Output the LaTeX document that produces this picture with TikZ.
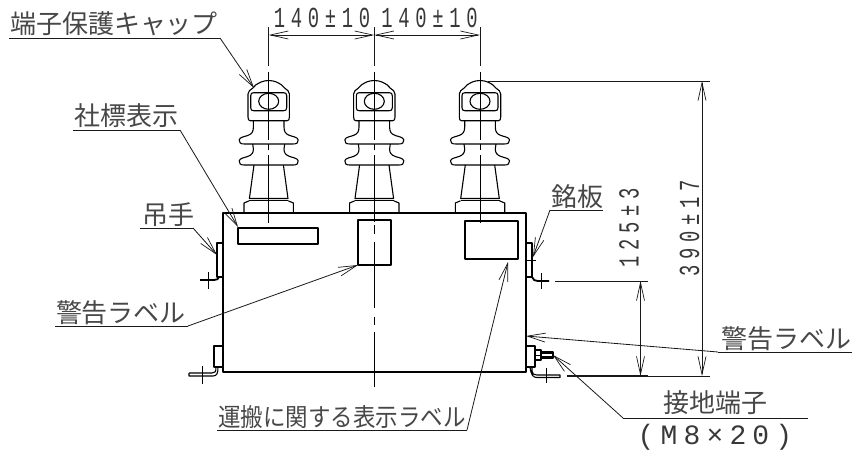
\documentclass[tikz,border=0pt]{standalone}
\usepackage{fontspec}
\usetikzlibrary{arrows.meta}
\newfontfamily\jpfont{Noto Sans CJK JP}
\newfontfamily\jpnarrow[FakeStretch=0.9]{Noto Sans CJK JP}
\newfontfamily\dimfont[FakeStretch=0.65,LetterSpace=19.5]{Liberation Mono}
\newfontfamily\partfont[LetterSpace=22]{Liberation Mono}
\tikzset{
  jplabel/.style={inner sep=0pt,font=\fontsize{26}{26}\jpfont,text=black!72},
  dimlabel/.style={inner sep=0pt,font=\fontsize{29}{29}\dimfont,text=black!78},
  outline/.style={draw=black,line width=1.1pt,line join=round},
  thin part/.style={draw=black,line width=.8pt},
  leader/.style={draw=black!90,line width=.8pt,-{Straight Barb[length=18pt,width=9pt,line width=.7pt]}},
  ruleline/.style={draw=black!90,line width=.9pt},
  dimline/.style={draw=black!90,line width=.9pt,{Straight Barb[length=18pt,width=8pt,line width=.7pt]}-{Straight Barb[length=18pt,width=8pt,line width=.7pt]}},
  extline/.style={draw=black!90,line width=.9pt},
  centre/.style={draw=black,line width=.9pt},
  insul/.pic={
    \foreach \s in {1,-1}{
      \begin{scope}[xscale=\s]
      \draw[outline] (0,80.5) .. controls (6,80.5) and (10,83) .. (13,85)
        .. controls (15,87) and (17,89.5) .. (19.3,90.7)
        .. controls (20.5,91.5) and (20.7,92.5) .. (20.7,94)
        -- (20.7,117) .. controls (20.7,119.5) and (20,120.7) .. (18.5,120.7) -- (0,120.7);
      \draw[outline] (15.3,121) -- (15.3,127)
        .. controls (15.3,132) and (17,134) .. (21,135.5)
        -- (26,137)
        .. controls (30,138) and (30.5,141.5) .. (28.5,143)
        .. controls (27.5,143.8) and (26,144) .. (24,144) -- (0,144);
      \draw[outline] (16,144) .. controls (15.3,146) and (15.3,147) .. (15.3,149)
        .. controls (15.3,153) and (17,155) .. (21,156.5)
        -- (26,158)
        .. controls (30,159) and (30.5,162.5) .. (28.5,164)
        .. controls (27.5,165) and (26,165) .. (24,165) -- (0,165);
      \draw[outline] (14.7,165) -- (19.3,198.5) -- (0,198.5);
      \draw[outline] (19.5,200.8) -- (0,200.8);
      \draw[outline] (19.5,200.8) -- (24.7,203) -- (24.7,213);
      \end{scope}
    }
    \draw[outline] (-18,95.7) .. controls (-18,93.5) and (-17,92.7) .. (-15,92.7) -- (15,92.7)
      .. controls (17,92.7) and (18,93.5) .. (18,95.7) -- (18,107.7)
      .. controls (18,110) and (17,110.7) .. (15,110.7) -- (-15,110.7)
      .. controls (-17,110.7) and (-18,110) .. (-18,107.7) -- cycle;
    \draw[outline] (0,101.3) ellipse [x radius=10,y radius=8];
  },
}
\begin{document}
\begin{tikzpicture}[x=1pt,y=-1pt]
\useasboundingbox (0,0) rectangle (852,450);
\coordinate (cl) at (268.7,35);
\coordinate (cm) at (374.3,35);
\coordinate (cr) at (480,35);

% insulators
\pic at (268.7,0) {insul};
\pic at (374.3,0) {insul};
\pic at (480,0) {insul};

% tank
\draw[outline] (223,213) rectangle (526,372);
\draw[outline] (238,228) rectangle (318,244);
\draw[outline] (358,220) rectangle (391,265);
\draw[outline] (465,221) rectangle (518,259);

% centre lines
\foreach \cx in {268.7,480}{
  \draw[centre] (\cx,72) -- (\cx,140) (\cx,144) -- (\cx,150) (\cx,155) -- (\cx,223);
}
\draw[centre] (374.3,72) -- (374.3,140) (374.3,144) -- (374.3,150) (374.3,155) -- (374.3,222)
  (374.3,225) -- (374.3,234) (374.3,242) -- (374.3,308) (374.3,317) -- (374.3,325) (374.3,332) -- (374.3,387);
\draw[extline] (268.7,27) -- (268.7,66);
\draw[extline] (374.3,27) -- (374.3,66);
\draw[extline] (480,27) -- (480,66);

% brackets
\draw[outline] (223,243) -- (217,243) -- (217,277) -- (223,277);
\draw[outline,line width=1.8pt] (200,280) -- (214,280) .. controls (217,280) and (218.5,279) .. (219,277);
\draw[thin part] (208,272) -- (208,289);
\draw[outline] (223,346) -- (214,346) -- (214,367) -- (223,367);
\draw[outline] (189,373) -- (212,373) .. controls (215,373) and (216,372) .. (216,367);
\draw[outline] (189,373) -- (189,376) -- (213,376) .. controls (217,376) and (218,373) .. (218,367);
\draw[thin part] (202,366) -- (202,384);
\draw[outline] (526,243) -- (532,243) -- (532,277) -- (526,277);
\draw[outline,line width=1.8pt] (532,277) .. controls (533,280) and (535,281) .. (538,281) -- (549,281);
\draw[thin part] (541,273) -- (541,289);
\draw[thin part] (526,260) -- (536,260);
\draw[outline] (526,346) -- (535,346) -- (535,367) -- (526,367);
\draw[outline] (532,367) -- (532,371) .. controls (532,374) and (534,375) .. (537,375) -- (560,375) -- (560,377.5) -- (537,377.5) .. controls (533,377.5) and (531,375) .. (530,367);
\draw[thin part] (546,368) -- (546,383);
% earth bolt
\draw[outline] (535,350) -- (541,350) -- (541,360) -- (535,360);
\draw[thin part] (535,355) -- (541,355);
\draw[outline] (541,352) -- (553,352) -- (553,358) -- (541,358);
\draw[thin part] (541,353.5) -- (553,353.5) (541,356.5) -- (553,356.5);

% extension lines
\draw[extline] (488,81) -- (710,81);
\draw[extline] (555,281) -- (648,281);
\draw[extline,line width=1.2pt] (567,376) -- (648,376);
\draw[extline] (648,376) -- (710,376);

% dimensions
\coordinate (a125t) at (640.5,281);
\coordinate (a125b) at (640.5,376);
\coordinate (a390t) at (702,81);
\coordinate (a390b) at (702,376);
\draw[dimline] (cl) -- (cm);
\draw[dimline] (cm) -- (cr);
\draw[dimline] (a125t) -- (a125b);
\draw[dimline] (a390t) -- (a390b);
\node[dimlabel] (d1) at (322,18) {140±10};
\node[dimlabel] (d2) at (429.5,18) {140±10};
\node[dimlabel,rotate=90] (d3) at (629,228) {125±3};
\node[dimlabel,rotate=90] (d4) at (689.5,228) {390±17};

% labels and leaders
\node[jplabel] (l1) at (114,24) {端子保護キャップ};
\coordinate (l1a) at (9,38); \coordinate (l1b) at (220,38); \coordinate (l1t) at (254,88);
\draw[ruleline] (l1a) -- (l1b); \draw[leader] (l1b) -- (l1t);

\node[jplabel] (l2) at (126,116) {社標表示};
\coordinate (l2a) at (73,130); \coordinate (l2b) at (180,130); \coordinate (l2t) at (238,227);
\draw[ruleline] (l2a) -- (l2b); \draw[leader] (l2b) -- (l2t);

\node[jplabel] (l3) at (168,215) {吊手};
\coordinate (l3a) at (140,228); \coordinate (l3b) at (193,228); \coordinate (l3t) at (217,255);
\draw[ruleline] (l3a) -- (l3b); \draw[leader] (l3b) -- (l3t);

\node[jplabel] (l4) at (121,313) {警告ラベル};
\coordinate (l4a) at (55,326); \coordinate (l4b) at (188,326); \coordinate (l4t) at (358,265);
\draw[ruleline] (l4a) -- (l4b); \draw[leader] (l4b) -- (l4t);

\node[jplabel] (l5) at (577,197) {銘板};
\coordinate (l5a) at (603,210); \coordinate (l5b) at (550,210); \coordinate (l5t) at (533,257);
\draw[ruleline] (l5a) -- (l5b); \draw[leader] (l5b) -- (l5t);

\node[jplabel,font=\fontsize{25}{26}\jpnarrow] (l6) at (342,417) {運搬に関する表示ラベル};
\coordinate (l6a) at (217,430); \coordinate (l6b) at (467,430); \coordinate (l6t) at (508,262);
\draw[ruleline] (l6a) -- (l6b); \draw[leader] (l6b) -- (l6t);

\node[jplabel] (l7) at (786,339) {警告ラベル};
\coordinate (l7a) at (852,352); \coordinate (l7b) at (718,352); \coordinate (l7t) at (526,336);
\draw[ruleline] (l7a) -- (l7b); \draw[leader] (l7b) -- (l7t);

\node[jplabel] (l8) at (715,403) {接地端子};
\coordinate (l8a) at (808,418); \coordinate (l8b) at (623,418); \coordinate (l8t) at (553,355);
\draw[ruleline] (l8a) -- (l8b); \draw[leader] (l8b) -- (l8t);
\node[inner sep=0pt,font=\fontsize{28}{28}\partfont,text=black!78] (l9) at (715,437) {(M8×20)};
\end{tikzpicture}
\end{document}
